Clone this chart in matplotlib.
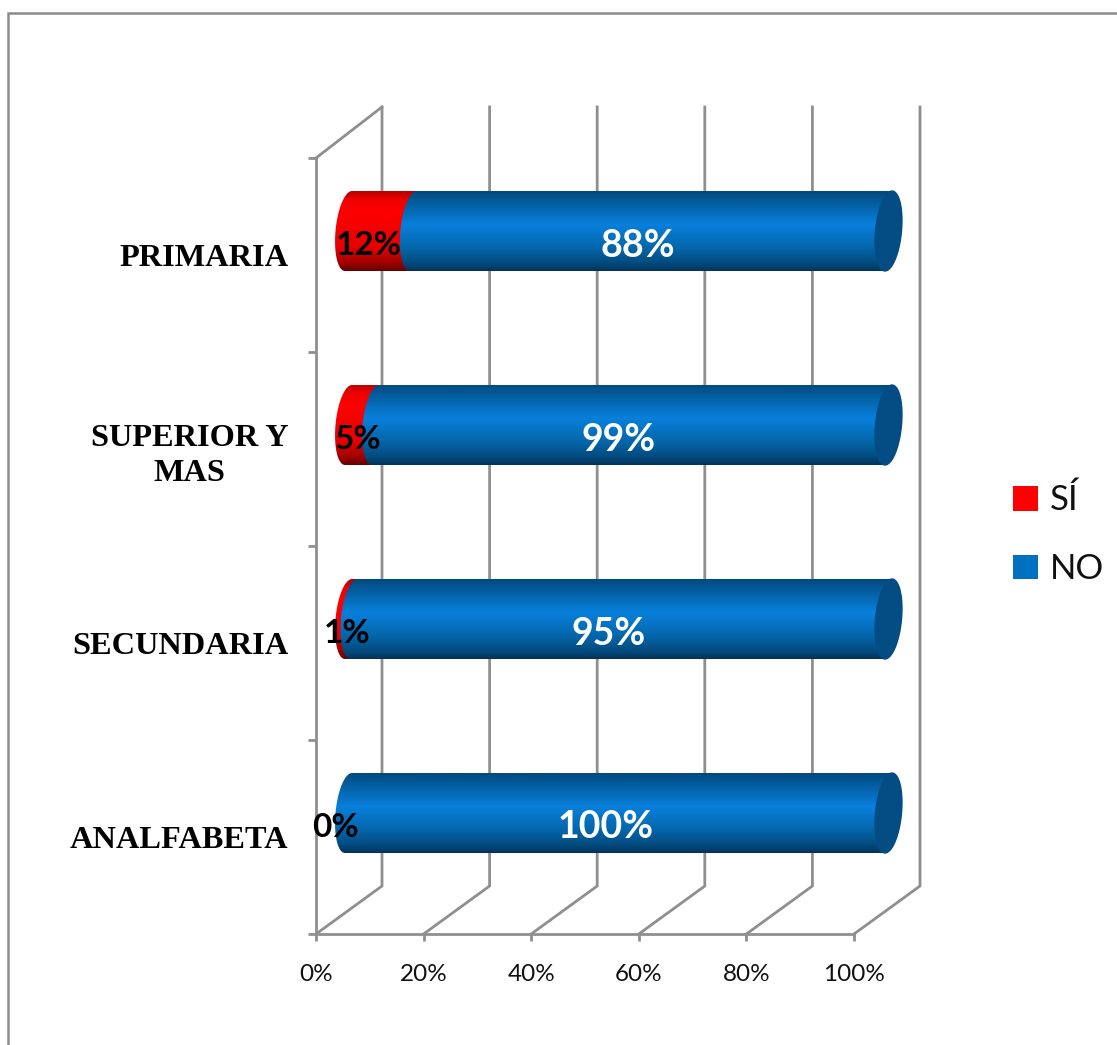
import numpy as np
import matplotlib
matplotlib.use("Agg")
import matplotlib.pyplot as plt
from matplotlib.colors import LinearSegmentedColormap
from matplotlib.patches import Polygon, Rectangle, Patch

W, H = 1117, 1045
categories = ["ANALFABETA", "SECUNDARIA", "SUPERIOR Y\nMAS", "PRIMARIA"]
si_values = [0, 1, 5, 12]
no_values = [100, 99, 95, 88]
si_labels = ["0%", "1%", "5%", "12%"]
no_labels = ["100%", "95%", "99%", "88%"]
x_ticks = [0, 20, 40, 60, 80, 100]
x_tick_labels = ["0%", "20%", "40%", "60%", "80%", "100%"]

GRID = "#8f8f8f"
RED_C = "#ff0000"
BLUE_C = "#0070c0"
CAP = "#044c84"

fig = plt.figure(figsize=(W / 100, H / 100), dpi=100, facecolor="white")
L, R, T, B = 316, 854, 158, 934
ax = fig.add_axes([L / W, 1 - B / H, (R - L) / W, (B - T) / H])
ax.set_xlim(0, 100)
ax.set_ylim(0, 4)
px_x = 100 / (R - L)
px_y = 4 / (B - T)
for s_ in ax.spines.values():
    s_.set_visible(False)

# outer frame
fig.patches.append(Rectangle((8 / W, -0.02), 1.05, 1 - 13 / H + 0.02, transform=fig.transFigure,
                             fill=False, ec="#8c8c8c", lw=1.8, zorder=0))

# 3D walls
dx, dy = 66 * px_x, 48 * px_y
top = 4 + 51 * px_y
lw = 2.0
for x in x_ticks:
    ax.plot([x, x + dx, x + dx], [0, dy, top], color=GRID, lw=lw, clip_on=False, zorder=1, solid_joinstyle="miter")
ax.plot([0, dx], [4, top], color=GRID, lw=lw, clip_on=False, zorder=1)
ax.plot([0, 0], [0, 4], color=GRID, lw=lw, clip_on=False, zorder=1)
ax.plot([0, 100], [0, 0], color=GRID, lw=lw, clip_on=False, zorder=1)

ax.set_xticks(x_ticks, x_tick_labels, fontfamily="Lato", fontsize=17.5, color="#111111")
ax.tick_params(axis="x", length=5, width=lw, color=GRID, pad=16.5)
ax.set_yticks(range(5), [""] * 5)
ax.tick_params(axis="y", which="major", length=5.5, width=lw, color=GRID)
ax.set_yticks(np.arange(4) + 0.5, categories, minor=True, fontfamily="Liberation Serif",
              fontweight="bold", fontsize=23.3, color="black", multialignment="center", linespacing=1.3)
ax.tick_params(axis="y", which="minor", length=0, pad=20)

blue_cmap = LinearSegmentedColormap.from_list("b", [(0, "#03497c"), (0.12, "#035a98"), (0.42, "#0880dc"),
                                                     (0.72, "#0465a8"), (0.9, "#034b7e"), (1, "#02335a")])
red_cmap = LinearSegmentedColormap.from_list("r", [(0, "#b80000"), (0.12, "#f00000"), (0.25, "#ff0000"),
                                                    (0.7, "#e80000"), (0.88, "#a80000"), (1, "#650000")])
grad = np.linspace(0, 1, 256).reshape(-1, 1)

bar_dx = 32.5 * px_x
bar_scale = 540 / 538
bar_dy = 24 * px_y
half_h = 40 * px_y
a = 13 * px_x
s = 3.5 * px_x


def arc(cx, cy, t0, t1):
    t = np.linspace(t0, t1, 60)
    # t measured so that sin(t)=+1 is the top of the tilted end
    return np.column_stack([cx + a * np.cos(t) + s * np.sin(t), cy + half_h * np.sin(t)])


def cylinder(v0, v1, cy, cmap, z):
    x0, x1 = v0 * bar_scale + bar_dx, v1 * bar_scale + bar_dx
    pts = np.vstack([arc(x0, cy, np.pi / 2, 3 * np.pi / 2), arc(x1, cy, -np.pi / 2, np.pi / 2)])
    im = ax.imshow(grad, cmap=cmap, extent=(x0 - 5, x1 + 5, cy - half_h, cy + half_h),
                   aspect="auto", origin="upper", zorder=z)
    im.set_clip_box(fig.bbox)
    im.set_clip_path(Polygon(pts, closed=True, transform=ax.transData))


for i, (si, no) in enumerate(zip(si_values, no_values)):
    cy = i + 0.5 + bar_dy
    if si > 0:
        cylinder(0, si, cy, red_cmap, 3)
    cylinder(si, si + no, cy, blue_cmap, 4)
    xe = (si + no) * bar_scale + bar_dx
    ax.fill(*arc(xe, cy, 0, 2 * np.pi).T, color=CAP, zorder=5, clip_on=False)
ax.set_xlim(0, 100)
ax.set_ylim(0, 4)

si_shift = [-13, -4, -4.5, -12]
for i, (si, no) in enumerate(zip(si_values, no_values)):
    cy = i + 0.5 + bar_dy - 14.5 * px_y
    ax.text(si + no / 2 + bar_dx - 12 * px_x, cy, no_labels[i], color="white", fontfamily="Lato",
            fontweight="bold", fontsize=27, ha="center", va="center", zorder=8)
    ax.text(si / 2 + bar_dx + si_shift[i] * px_x, cy, si_labels[i], color="black", fontfamily="Lato",
            fontweight="bold", fontsize=24, ha="center", va="center", zorder=8)

handles = [Patch(fc=RED_C, label="SÍ"), Patch(fc=BLUE_C, label="NO")]
fig.legend(handles=handles, loc="center left", bbox_to_anchor=(1006 / W, 1 - 534.5 / H), frameon=False,
           prop={"family": "Lato", "size": 25}, handlelength=0.72, handleheight=0.72,
           handletextpad=0.33, labelspacing=1.06, borderpad=0.2, borderaxespad=0, labelcolor="#111111")

fig.savefig("out.png", dpi=100)
